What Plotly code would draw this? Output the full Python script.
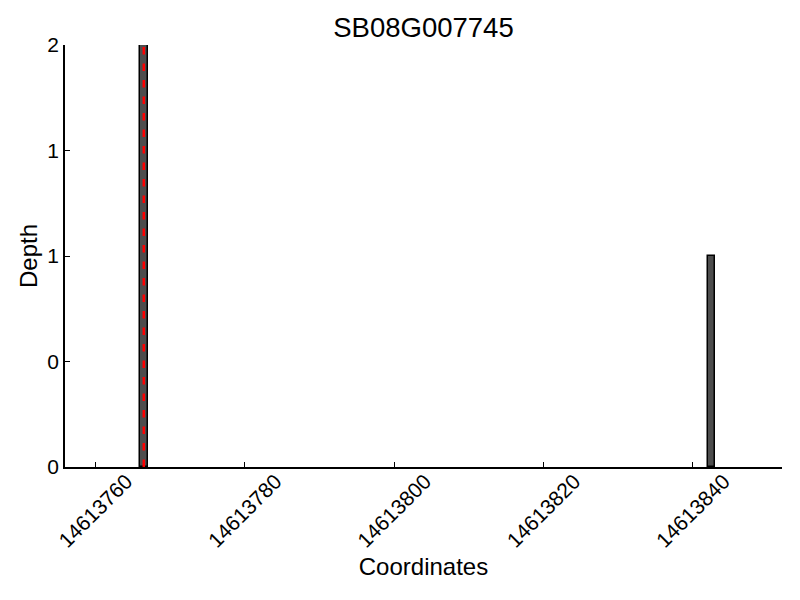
import plotly.graph_objects as go

title = "SB08G007745"
positions = [14613766, 14613842]
depths = [2, 1]
marker_pos = 14613766.5
x_ticks = [14613760, 14613780, 14613800, 14613820, 14613840]
y_ticks = [0, 0.5, 1, 1.5, 2]
y_tick_labels = ["0", "0", "1", "1", "2"]

font_family = "Liberation Sans, Arial, sans-serif"

fig = go.Figure()
fig.add_trace(go.Bar(
    x=positions, y=depths, width=1, offset=0,
    marker=dict(color="#4d4d4d", line=dict(color="black", width=1.5)),
    showlegend=False,
))
fig.add_shape(type="line", x0=marker_pos, x1=marker_pos, y0=0, y1=2,
              xref="x", yref="y",
              line=dict(color="red", width=2.5, dash="7.5px,9px"))

fig.update_layout(
    width=792, height=592,
    paper_bgcolor="white", plot_bgcolor="white",
    margin=dict(l=57, r=18, t=37, b=133),
    title=dict(text=title, xref="paper", x=0.5, xanchor="center",
               y=0.967, yanchor="middle",
               font=dict(family=font_family, size=27.5, color="black")),
    font=dict(family=font_family, color="black"),
    bargap=0,
)
fig.update_xaxes(
    range=[14613755.95, 14613851.95],
    tickvals=x_ticks, ticktext=[str(v) for v in x_ticks],
    tickangle=-45, tickfont=dict(size=21),
    ticklabelshift=31, ticklabelstandoff=-8,
    ticks="inside", ticklen=5, tickcolor="black",
    showline=True, linecolor="black", linewidth=1.5,
    showgrid=False, zeroline=False, automargin=False,
    title=dict(text="Coordinates", font=dict(size=24), standoff=7),
)
fig.update_yaxes(
    range=[0, 2],
    tickvals=y_ticks, ticktext=y_tick_labels, tickfont=dict(size=21),
    ticks="inside", ticklen=5, tickcolor="black",
    showline=True, linecolor="black", linewidth=1.5,
    showgrid=False, zeroline=False, automargin=False,
    title=dict(text="Depth", font=dict(size=24), standoff=3),
)

fig.write_html("out.html")
